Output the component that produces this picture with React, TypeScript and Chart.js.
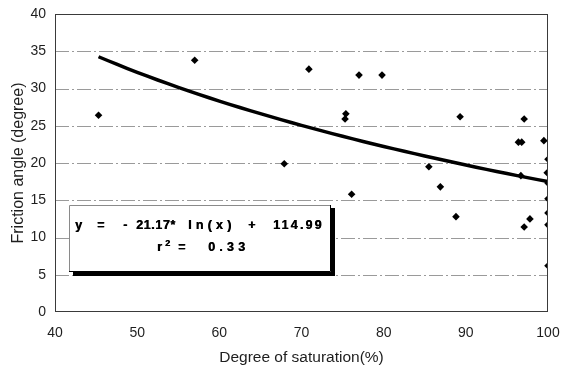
import React, { useEffect, useRef } from "react";
import { Chart, registerables } from "chart.js";

Chart.register(...registerables);

// Measured samples: degree of saturation (%) vs. friction angle (degree)
const saturation = [
  45.3, 57.0, 70.9, 77.0, 79.8, 75.4, 75.3, 67.9, 76.1, 89.3, 97.1, 96.4, 96.8,
  99.5, 100, 99.9, 100, 85.5, 86.9, 96.7, 88.8, 97.1, 97.8, 100, 100, 100, 100,
];
const frictionAngle = [
  26.4, 33.8, 32.6, 31.8, 31.8, 26.6, 25.9, 19.9, 15.8, 26.2, 25.9, 22.8, 22.8,
  23.0, 20.5, 18.7, 17.3, 19.5, 16.8, 18.3, 12.8, 11.4, 12.5, 15.2, 13.3, 11.7, 6.2,
];

// Logarithmic regression y = a*ln(x) + b
const trendSlope = -21.17;
const trendIntercept = 114.99;
const rSquared = 0.33;
const trendX = [
  45.3, 47.5, 50, 52.5, 55, 57.5, 60, 62.5, 65, 67.5, 70, 72.5, 75, 77.5, 80,
  82.5, 85, 87.5, 90, 92.5, 95, 97.5, 100,
];

const xTicks = [40, 50, 60, 70, 80, 90, 100];
const yTicks = [0, 5, 10, 15, 20, 25, 30, 35, 40];

const FONT = "'Liberation Sans', Arial, sans-serif";
const TEXT = "#1e1e1e";

// Dashed horizontal grid lines
const gridPlugin = {
  id: "dashedGrid",
  beforeDatasetsDraw(chart: any) {
    const { ctx, chartArea: a, scales } = chart;
    ctx.save();
    ctx.strokeStyle = "#9a9a9a";
    ctx.lineWidth = 1;
    ctx.setLineDash([14, 3, 2, 3]);
    yTicks.forEach((v) => {
      if (v <= 0 || v >= 40) return;
      const y = Math.round(scales.y.getPixelForValue(v)) + 0.5;
      ctx.beginPath();
      ctx.moveTo(a.left, y);
      ctx.lineTo(a.right, y);
      ctx.stroke();
    });
    ctx.restore();
  },
};

// Plot frame around the chart area
const framePlugin = {
  id: "frame",
  afterDraw(chart: any) {
    const { ctx, chartArea: a } = chart;
    ctx.save();
    ctx.strokeStyle = "#3a3a3a";
    ctx.lineWidth = 1;
    ctx.strokeRect(
      Math.round(a.left) + 0.5,
      Math.round(a.top) + 0.5,
      Math.round(a.right - a.left) - 1,
      Math.round(a.bottom - a.top) - 1
    );
    ctx.restore();
  },
};

// Regression equation box with a drop shadow
const equationPlugin = {
  id: "equationBox",
  afterDatasetsDraw(chart: any) {
    const { ctx, scales } = chart;
    const xs = scales.x;
    const ys = scales.y;
    const left = Math.round(xs.getPixelForValue(41.7));
    const right = Math.round(xs.getPixelForValue(73.6));
    const top = Math.round(ys.getPixelForValue(14.36));
    const bottom = Math.round(ys.getPixelForValue(5.37));
    ctx.save();
    ctx.fillStyle = "#ffffff";
    ctx.fillRect(left, top, right - left, bottom - top);
    // thin outline
    ctx.lineWidth = 1;
    ctx.strokeStyle = "#8a8a8a";
    ctx.beginPath();
    ctx.moveTo(left + 0.5, bottom);
    ctx.lineTo(left + 0.5, top + 0.5);
    ctx.lineTo(right, top + 0.5);
    ctx.stroke();
    ctx.strokeStyle = "#000";
    ctx.beginPath();
    ctx.moveTo(right - 0.5, top);
    ctx.lineTo(right - 0.5, bottom - 0.5);
    ctx.lineTo(left, bottom - 0.5);
    ctx.stroke();
    // shadow
    ctx.fillStyle = "#000";
    ctx.fillRect(right, top + 3, 4, bottom - top + 1);
    ctx.fillRect(left + 4, bottom, right - left, 4);

    const draw = (s: string, dx: number, cy: number, spacing: number, size = 12.5) => {
      (ctx as any).letterSpacing = spacing + "px";
      ctx.font = `bold ${size}px ${FONT}`;
      ctx.fillStyle = "#000";
      ctx.textBaseline = "middle";
      ctx.textAlign = "left";
      ctx.fillText(s, left + dx, cy);
      // slight double strike for the heavy print look
      ctx.fillText(s, left + dx + 0.4, cy);
    };
    const a = Math.abs(trendSlope).toFixed(2);
    const b = trendIntercept.toFixed(2);
    const y1 = top + 21;
    draw("y", 6, y1, 0);
    draw("=", 28, y1, 0);
    draw("-", 54, y1, 0);
    draw(a + "*", 67, y1, 0.6);
    draw("ln(x)", 119, y1, 4.2);
    draw("+", 179, y1, 0);
    draw(b, 204, y1, 2.2);
    const y2 = top + 42.5;
    draw("r", 88, y2, 0);
    draw("2", 96, y2 - 4, 0, 9);
    draw("=", 109, y2, 0);
    draw(rSquared.toFixed(2), 139, y2, 4.2);
    ctx.restore();
  },
};

export default function App() {
  const canvasRef = useRef<HTMLCanvasElement | null>(null);

  useEffect(() => {
    document.body.style.margin = "0";
    const canvas = canvasRef.current;
    if (!canvas) return;

    const points = saturation.map((x, i) => ({ x, y: frictionAngle[i] }));
    const trend = trendX.map((x) => ({ x, y: trendSlope * Math.log(x) + trendIntercept }));

    const chart = new Chart(canvas, {
      type: "scatter",
      data: {
        datasets: [
          {
            label: "Measured",
            data: points,
            pointStyle: "rectRot",
            pointRadius: 3.8,
            pointBackgroundColor: "#000",
            pointBorderColor: "#000",
            pointBorderWidth: 0,
            showLine: false,
          },
          {
            label: "Log trend",
            data: trend,
            showLine: true,
            borderColor: "#000",
            borderWidth: 3.5,
            pointRadius: 0,
            tension: 0.3,
            fill: false,
          },
        ],
      },
      options: {
        responsive: false,
        animation: false,
        events: [],
        layout: { padding: { top: 14, right: 14, left: 0, bottom: 0 } },
        plugins: {
          legend: { display: false },
          tooltip: { enabled: false },
        },
        scales: {
          x: {
            type: "linear",
            min: 40,
            max: 100,
            afterBuildTicks: (s: any) => {
              s.ticks = xTicks.map((v) => ({ value: v }));
            },
            afterFit: (s: any) => {
              s.height = 58;
              s.paddingLeft = 0;
              s.paddingRight = 0;
            },
            grid: { display: false, drawTicks: false },
            border: { display: false },
            ticks: {
              padding: 13,
              color: TEXT,
              font: { family: FONT, size: 14 },
            },
            title: {
              display: true,
              text: "Degree of saturation(%)",
              color: TEXT,
              font: { family: FONT, size: 15.5 },
              padding: { top: 0, bottom: 3 },
            },
          },
          y: {
            type: "linear",
            min: 0,
            max: 40,
            afterBuildTicks: (s: any) => {
              s.ticks = yTicks.map((v) => ({ value: v }));
            },
            afterFit: (s: any) => {
              s.width = 55;
              s.paddingTop = 0;
              s.paddingBottom = 0;
            },
            grid: { display: false, drawTicks: false },
            border: { display: false },
            ticks: {
              padding: 9,
              color: TEXT,
              font: { family: FONT, size: 14 },
            },
            title: {
              display: true,
              text: "Friction angle (degree)",
              color: TEXT,
              font: { family: FONT, size: 16 },
              padding: { top: 9, bottom: 0 },
            },
          },
        },
      },
      plugins: [gridPlugin, framePlugin, equationPlugin],
    });

    return () => chart.destroy();
  }, []);

  return (
    <div style={{ width: 562, height: 370, background: "#fff" }}>
      <canvas ref={canvasRef} width={562} height={370} style={{ display: "block" }} />
    </div>
  );
}
